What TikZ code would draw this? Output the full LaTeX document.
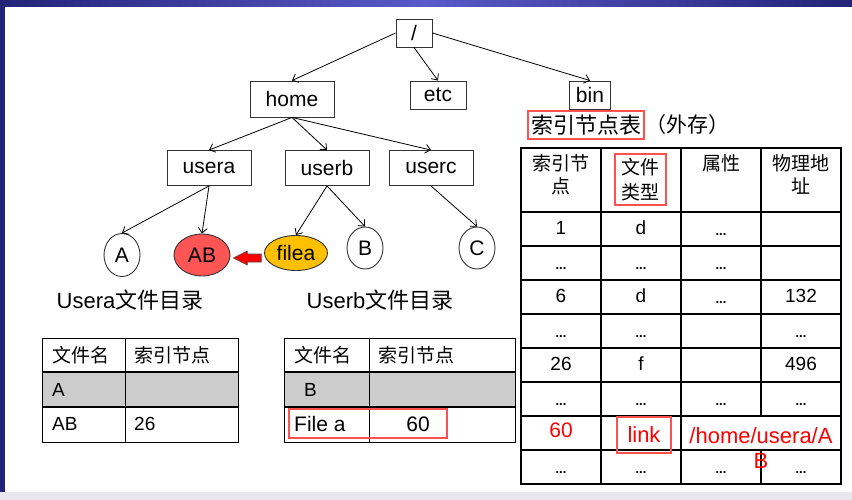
\documentclass[tikz,border=0pt]{standalone}
\usepackage{fontspec}
\setmainfont{Liberation Sans}
\newfontfamily\cjk{Noto Sans CJK SC}
\usepackage{tikz}
\usetikzlibrary{calc}
\usetikzlibrary{positioning}
\usetikzlibrary{arrows.meta}
\usetikzlibrary{shapes.geometric}

\definecolor{navy}{HTML}{23237A}
\definecolor{barblue}{HTML}{5A5AC8}
\definecolor{bottomgray}{HTML}{E8E6EE}
\definecolor{cellgray}{HTML}{CCCCCC}
\definecolor{boxred}{HTML}{FF5050}
\definecolor{abfill}{HTML}{FF5555}
\definecolor{fileafill}{HTML}{FFC000}

\tikzset{
  dir/.style={draw=black!80, line width=0.9pt, inner sep=0pt, font=\fontsize{21}{24}\selectfont},
  leaf/.style={ellipse, draw=black!80, line width=0.9pt, inner sep=0pt, font=\fontsize{21}{24}\selectfont},
  branch/.style={-{Straight Barb[length=5pt,width=9pt]}, line width=0.8pt},
  redbox/.style={draw=boxred, line width=1.8pt, inner sep=0pt},
  cell/.style={inner sep=0pt, font=\fontsize{19}{23}\selectfont},
  dotcell/.style={inner sep=0pt, anchor=base, font=\fontsize{13}{16}\selectfont\bfseries},
  redcell/.style={inner sep=0pt, text=red, font=\fontsize{21}{25}\selectfont},
}

\begin{document}
\begin{tikzpicture}[x=1pt,y=-1pt]
  \useasboundingbox (0,0) rectangle (852,500);
  \fill[white] (0,0) rectangle (852,500);
  \shade[left color=navy,right color=navy,middle color=barblue] (0,0) rectangle (852,7);
  \fill[navy] (0,0) rectangle (5,492);
  \fill[bottomgray] (0,492) rectangle (852,500);

  % 目录树
  \node[dir, minimum width=36, minimum height=28] (root) at (414,33) {/};
  \node[dir, minimum width=84, minimum height=36] (home) at (292,99) {home};
  \node[dir, minimum width=56, minimum height=28] (etc) at (438,95) {etc};
  \node[dir, minimum width=41, minimum height=28] (bin) at (590,95) {bin};
  \node[dir, minimum width=84, minimum height=35] (usera) at (209,168) {usera};
  \node[dir, minimum width=84, minimum height=35] (userb) at (327,168) {userb};
  \node[dir, minimum width=84, minimum height=35] (userc) at (431,168) {userc};

  \node[leaf, minimum width=36, minimum height=43] (a) at (122,255) {A};
  \node[leaf, fill=abfill, minimum width=56, minimum height=42] (ab) at (202,255) {AB};
  \node[leaf, fill=fileafill, minimum width=63, minimum height=35] (filea) at (296,253) {filea};
  \node[leaf, minimum width=36, minimum height=42] (b) at (365,248) {B};
  \node[leaf, minimum width=36, minimum height=42] (c) at (477,248) {C};

  \draw[branch] (root.west) -- (home.north);
  \draw[branch] (root.south) -- (etc.north);
  \draw[branch] (root.east) -- (bin.north);
  \draw[branch] (home.south) -- (usera.north);
  \draw[branch] (home.south) -- (userb.north);
  \draw[branch] (home.south) -- (userc.north);
  \draw[branch] (usera.south) -- (a.north);
  \draw[branch] (usera.south) -- (ab.north);
  \draw[branch] (userb.south) -- (filea.north);
  \draw[branch] (userb.south) -- (b.north);
  \draw[branch] (userc.south) -- (c.north);

  \coordinate (mv) at ($(ab.east)!0.5!(filea.west)+(0,4)$);
  \draw[draw=black!70, fill=red, line width=0.6pt] ($(mv)+(14,-4)$) -- ($(mv)+(0,-4)$) -- ($(mv)+(0,-7)$)
    -- ($(mv)+(-14,0)$) -- ($(mv)+(0,7)$) -- ($(mv)+(0,4)$) -- ($(mv)+(14,4)$) -- cycle;

  \node[font=\fontsize{22}{26}\selectfont] (dira) at (130,300) {Usera{\cjk 文件目录}};
  \node[font=\fontsize{22}{26}\selectfont] (dirb) at (380,300) {Userb{\cjk 文件目录}};

  % Usera 目录表
  \fill[cellgray] (42,372) rectangle (238,407);
  \draw[line width=0.9pt] (42,338) rectangle (238,442);
  \draw[line width=1.4pt] (42,372) -- (238,372) (42,407) -- (238,407);
  \draw[line width=0.9pt] (125,338) -- (125,442);
  \node[cell, anchor=west] (ua1) at (52,355) {\cjk 文件名};
  \node[cell, anchor=west] (ua2) at (134,355) {\cjk 索引节点};
  \node[cell, anchor=west] (ua3) at (52,390) {A};
  \node[cell, anchor=west] (ua4) at (52,424) {AB};
  \node[cell, anchor=west] (ua5) at (134,424) {26};

  % Userb 目录表
  \fill[cellgray] (284,372) rectangle (515,407);
  \draw[line width=0.9pt] (284,338) rectangle (515,442);
  \draw[line width=1.4pt] (284,372) -- (515,372) (284,407) -- (515,407);
  \draw[line width=0.9pt] (369,338) -- (369,442);
  \node[cell, anchor=west] (ub1) at (294,355) {\cjk 文件名};
  \node[cell, anchor=west] (ub2) at (378,355) {\cjk 索引节点};
  \node[cell, anchor=west] (ub3) at (304,390) {B};
  \node[cell, anchor=west, font=\fontsize{21}{25}\selectfont] (ub4) at (294,424) {File a};
  \node[cell, font=\fontsize{21}{25}\selectfont] (ub5) at (418,424) {60};
  \draw[redbox] (289,409) rectangle (447,438);

  % 索引节点表
  \node[redbox, minimum width=116, minimum height=28, font=\fontsize{22}{26}\selectfont\cjk] (ttl) at (586,125) {索引节点表};
  \node[right=0pt of ttl, inner sep=0pt, font=\fontsize{21}{26}\selectfont\cjk] (ttlx) {（外存）};

  \draw[line width=1.3pt] (601,148) -- (601,484) (681,148) -- (681,484);
  \draw[line width=1.3pt] (761,148) -- (761,416) (761,450) -- (761,484);
  \foreach \y in {212,246,280,314,348,382,416,450}
    \draw[line width=1.5pt] (521,\y) -- (841,\y);
  \draw[line width=2.2pt] (521,148) rectangle (841,484);

  \node[cell, anchor=north, align=center, font=\fontsize{19}{23}\selectfont\cjk] (h1) at (561,154) {索引节\\点};
  \node[redbox, minimum width=51, minimum height=51, align=center, font=\fontsize{19}{25}\selectfont\cjk] (h2) at (640.5,179.5) {文件\\类型};
  \node[cell, anchor=north, font=\fontsize{19}{23}\selectfont\cjk] (h3) at (721,154) {属性};
  \node[cell, anchor=north, align=center, font=\fontsize{19}{23}\selectfont\cjk] (h4) at (801,154) {物理地\\址};

  \node[cell] (r1a) at (561,228) {1};
  \node[cell] (r1b) at (641,228) {d};
  \node[dotcell] (r1c) at (721,235) {...};
  \node[dotcell] (r2a) at (561,269) {...};
  \node[dotcell] (r2b) at (641,269) {...};
  \node[dotcell] (r2c) at (721,269) {...};
  \node[cell] (r3a) at (561,296) {6};
  \node[cell] (r3b) at (641,296) {d};
  \node[dotcell] (r3c) at (721,303) {...};
  \node[cell] (r3d) at (801,296) {132};
  \node[dotcell] (r4a) at (561,337) {...};
  \node[dotcell] (r4b) at (641,337) {...};
  \node[dotcell] (r4d) at (801,337) {...};
  \node[cell] (r5a) at (561,364) {26};
  \node[cell] (r5b) at (641,364) {f};
  \node[cell] (r5d) at (801,364) {496};
  \node[dotcell] (r6a) at (561,405) {...};
  \node[dotcell] (r6b) at (641,405) {...};
  \node[dotcell] (r6c) at (721,405) {...};
  \node[dotcell] (r6d) at (801,405) {...};
  \node[redcell] (r7a) at (561,430) {60};
  \node[redbox, redcell, minimum width=54, minimum height=36, font=\fontsize{22}{25}\selectfont] (r7b) at (644,435) {link};
  \node[redcell, anchor=north, align=center, font=\fontsize{22}{25}\selectfont] (r7c) at (761,427) {/home/usera/A\\B};
  \node[dotcell] (r8a) at (561,473) {...};
  \node[dotcell] (r8b) at (641,473) {...};
  \node[dotcell] (r8c) at (721,473) {...};
  \node[dotcell] (r8d) at (801,473) {...};

\end{tikzpicture}
\end{document}
